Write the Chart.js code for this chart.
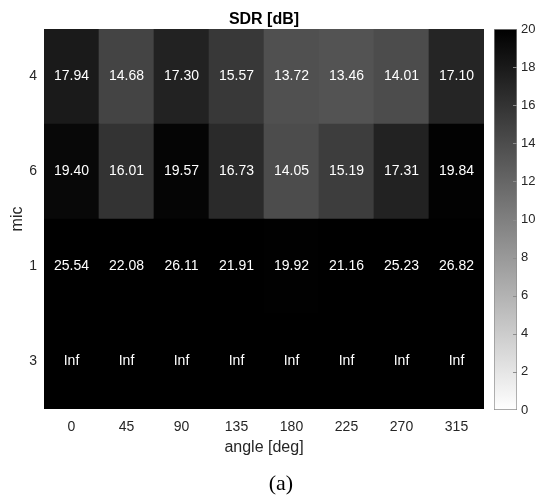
<!DOCTYPE html>
<html>
<head>
<meta charset="utf-8">
<script src="https://cdn.jsdelivr.net/npm/chart.js@4.4.1/dist/chart.umd.min.js"></script>
<style>
  html, body { margin: 0; padding: 0; background: #fff; }
  #wrap { position: relative; width: 536px; height: 495px; overflow: hidden; }
  #heat { position: absolute; left: 0; top: 0; }
  #cbar { position: absolute; left: 480px; top: 0; }
  #caption {
    position: absolute; left: 0; width: 562px; top: 470px;
    text-align: center; line-height: 26px;
    font-size: 22px; font-family: 'Liberation Serif', 'Times New Roman', serif; color: #000;
  }
</style>
</head>
<body>
<div id="wrap">
  <canvas id="heat" width="536" height="495"></canvas>
  <canvas id="cbar" width="56" height="495"></canvas>
  <div id="caption">(a)</div>
</div>
<script>
// Data (rows listed top to bottom as in the picture)
const angles = ['0', '45', '90', '135', '180', '225', '270', '315'];
const mics = ['4', '6', '1', '3'];
const sdrMic4 = [17.94, 14.68, 17.30, 15.57, 13.72, 13.46, 14.01, 17.10];
const sdrMic6 = [19.40, 16.01, 19.57, 16.73, 14.05, 15.19, 17.31, 19.84];
const sdrMic1 = [25.54, 22.08, 26.11, 21.91, 19.92, 21.16, 25.23, 26.82];
const sdrMic3 = [Infinity, Infinity, Infinity, Infinity, Infinity, Infinity, Infinity, Infinity];
const colorbarTicks = [0, 2, 4, 6, 8, 10, 12, 14, 16, 18, 20];
const cMin = 0, cMax = 20;

const FONT = "'Liberation Sans', Arial, Helvetica, sans-serif";
Chart.defaults.font.family = FONT;
Chart.defaults.color = '#262626';

// flipped gray colormap, clipped to [cMin, cMax]
function grayOf(v) {
  const t = Math.min(Math.max((v - cMin) / (cMax - cMin), 0), 1);
  const g = Math.round(255 * (1 - t));
  return `rgb(${g},${g},${g})`;
}

function fmt(v) {
  return isFinite(v) ? v.toFixed(2) : 'Inf';
}

const rowsTopDown = [sdrMic4, sdrMic6, sdrMic1, sdrMic3];

// stacked bars, bottom row first
const datasets = rowsTopDown.slice().reverse().map((row, i) => ({
  label: 'mic ' + mics[mics.length - 1 - i],
  data: angles.map((a, j) => ({ x: a, y: 1, v: row[j] })),
  backgroundColor: ctx => grayOf(ctx.raw.v),
  borderWidth: 0,
  barPercentage: 1,
  categoryPercentage: 1
}));

const cellLabels = {
  id: 'cellLabels',
  afterDatasetsDraw(chart) {
    const ctx = chart.ctx;
    ctx.save();
    ctx.font = '14px ' + FONT;
    ctx.textAlign = 'center';
    ctx.textBaseline = 'middle';
    chart.data.datasets.forEach((ds, i) => {
      chart.getDatasetMeta(i).data.forEach((el, j) => {
        const p = el.getCenterPoint();
        const v = ds.data[j].v;
        ctx.fillStyle = (isFinite(v) && v < 10) ? '#000' : '#fff';
        ctx.fillText(fmt(v), p.x, p.y);
      });
    });
    ctx.restore();
  }
};

new Chart(document.getElementById('heat'), {
  type: 'bar',
  data: { labels: angles, datasets: datasets },
  plugins: [cellLabels],
  options: {
    responsive: false,
    animation: false,
    layout: { padding: { left: 0, right: 52, top: 0, bottom: 36 } },
    plugins: {
      legend: { display: false },
      tooltip: { enabled: false },
      title: {
        display: true,
        text: 'SDR [dB]',
        color: '#000',
        fullSize: false,
        font: { size: 16, weight: 'bold', lineHeight: 1 },
        padding: { top: 12, bottom: 1 }
      }
    },
    scales: {
      x: {
        stacked: true,
        grid: { display: false, drawTicks: false },
        border: { display: false },
        ticks: { font: { size: 14 }, padding: 10, autoSkip: false, maxRotation: 0 },
        title: { display: true, text: 'angle [deg]', font: { size: 16 }, padding: { top: 0, bottom: 1.4 } },
        afterFit: s => { s.height = 50; }
      },
      y: {
        stacked: true,
        min: 0,
        max: mics.length,
        grid: { display: false, drawTicks: false },
        border: { display: false },
        afterBuildTicks: s => { s.ticks = mics.map((m, i) => ({ value: i + 0.5 })); },
        ticks: {
          font: { size: 14 },
          padding: 7,
          callback: v => mics[mics.length - 1 - Math.floor(v)]
        },
        title: { display: true, text: 'mic', font: { size: 16 }, padding: { top: 8, bottom: 0 } },
        afterFit: s => { s.width = 44; }
      }
    }
  }
});

// Colorbar
const cbarTickMarks = {
  id: 'cbarTickMarks',
  afterDatasetsDraw(chart) {
    const ctx = chart.ctx;
    const y = chart.scales.y;
    const area = chart.chartArea;
    ctx.save();
    ctx.strokeStyle = '#8c8c8c';
    ctx.lineWidth = 1;
    colorbarTicks.forEach(t => {
      if (t === cMin || t === cMax) return;
      const py = Math.round(y.getPixelForValue(t)) + 0.5;
      ctx.beginPath();
      ctx.moveTo(area.right - 4, py);
      ctx.lineTo(area.right, py);
      ctx.stroke();
    });
    ctx.restore();
  }
};

new Chart(document.getElementById('cbar'), {
  type: 'bar',
  data: {
    labels: ['SDR'],
    datasets: [{
      data: [[cMin, cMax]],
      backgroundColor: ctx => {
        const chart = ctx.chart;
        if (!chart.chartArea) return '#888';
        const y = chart.scales.y;
        const g = chart.ctx.createLinearGradient(0, y.getPixelForValue(cMin), 0, y.getPixelForValue(cMax));
        g.addColorStop(0, grayOf(cMin));
        g.addColorStop(1, grayOf(cMax));
        return g;
      },
      borderColor: '#8c8c8c',
      borderWidth: 1,
      borderSkipped: false,
      barPercentage: 1,
      categoryPercentage: 1
    }]
  },
  plugins: [cbarTickMarks],
  options: {
    responsive: false,
    animation: false,
    layout: { padding: { left: 14, right: 0, top: 29, bottom: 85 } },
    plugins: { legend: { display: false }, tooltip: { enabled: false } },
    scales: {
      x: { display: false },
      y: {
        position: 'right',
        min: cMin,
        max: cMax,
        grid: { display: false, drawTicks: false },
        border: { display: false },
        afterBuildTicks: s => { s.ticks = colorbarTicks.map(v => ({ value: v })); },
        ticks: { font: { size: 13 }, padding: 4 },
        afterFit: s => { s.width = 19; }
      }
    }
  }
});
</script>
</body>
</html>
